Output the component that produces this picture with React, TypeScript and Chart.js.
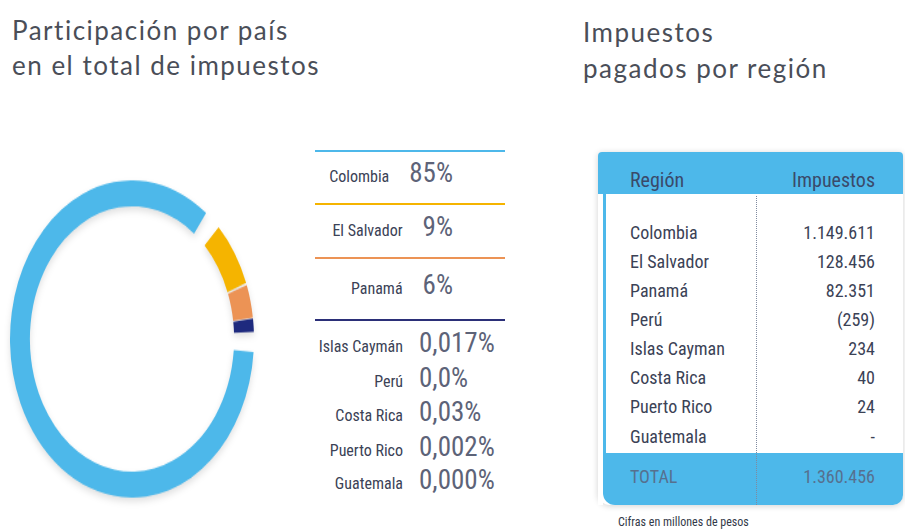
import React, { useEffect, useRef } from "react";
import { Chart, registerables } from "chart.js";
Chart.register(...registerables);

// Ring: arc shares as drawn in the ring (Colombia, El Salvador, Panamá, otros)
const ringLabels = ["Colombia", "El Salvador", "Panamá", "Otros"];
const ringShare = [88.1, 7, 3.5, 1.4];
const ringColors = ["#4DB8EA", "#F5B400", "#EC9355", "#1E2A7E"];

// Participation list
const mainLabels = ["Colombia", "El Salvador", "Panamá"];
const mainPct = ["85%", "9%", "6%"];
const mainLineColors = ["#4DB8EA", "#F5B400", "#EC9355", "#2B2F78"];
const minorLabels = ["Islas Caymán", "Perú", "Costa Rica", "Puerto Rico", "Guatemala"];
const minorPct = ["0,017%", "0,0%", "0,03%", "0,002%", "0,000%"];

// Table
const regions = ["Colombia", "El Salvador", "Panamá", "Perú", "Islas Cayman", "Costa Rica", "Puerto Rico", "Guatemala"];
const taxes = ["1.149.611", "128.456", "82.351", "(259)", "234", "40", "24", "-"];
const totalTax = "1.360.456";

const W = 905;
const NARROW = "'Liberation Sans Narrow', 'Arial Narrow', 'Roboto Condensed', 'DejaVu Sans Condensed', sans-serif";
const TITLE = "Lato, 'Open Sans', sans-serif";
const BLUE = "#4DB8EA";

function T(props: any) {
  const { x, base, size, right, color = "#3b4256", family = NARROW, weight = 400, ratio = 0.85, ls = 0, children } = props;
  return (
    <div
      style={{
        position: "absolute",
        top: base - ratio * size,
        left: right ? undefined : x,
        right: right ? W - x : undefined,
        fontSize: size,
        lineHeight: `${size}px`,
        fontFamily: family,
        fontWeight: weight,
        color,
        whiteSpace: "nowrap",
        letterSpacing: ls,
      }}
    >
      {children}
    </div>
  );
}

const CS = 244;

function Ring() {
  const ref = useRef<HTMLCanvasElement>(null);
  useEffect(() => {
    const chart = new Chart(ref.current!, {
      type: "doughnut",
      data: {
        labels: ringLabels,
        datasets: [
          {
            data: ringShare,
            backgroundColor: ringColors,
            borderWidth: 0,
            spacing: 10,
          },
        ],
      },
      options: {
        responsive: false,
        maintainAspectRatio: false,
        animation: false,
        devicePixelRatio: 1,
        cutout: "83%",
        rotation: 87.5,
        layout: { padding: 0 },
        plugins: { legend: { display: false }, tooltip: { enabled: false } },
      },
    });
    return () => chart.destroy();
  }, []);
  return (
    <div
      style={{
        position: "absolute",
        left: 132 - CS / 2,
        top: 339 - CS / 2,
        width: CS,
        height: CS,
        transform: "scaleY(1.3)",
        transformOrigin: "50% 50%",
        filter: "drop-shadow(0px 3px 3px rgba(0,0,0,0.12))",
      }}
    >
      <canvas ref={ref} width={CS} height={CS} style={{ width: CS, height: CS, display: "block" }} />
    </div>
  );
}

export default function App() {
  useEffect(() => {
    document.body.style.margin = "0";
  }, []);
  const mainBases = [183, 237, 295];
  const lineYs = [151, 204, 258, 320];
  const minorBases = [353, 388, 422, 457, 490];
  const rowBases = [239, 268, 297, 326, 355, 384, 413, 443];
  return (
    <div style={{ position: "fixed", left: 0, top: 0, width: W, height: 529, background: "#fff", overflow: "hidden" }}>
      {/* Titles */}
      <T x={12} base={40} size={26} family={TITLE} ratio={0.887} ls={1.5} color="#4a4e58">Participación por país</T>
      <T x={12} base={75} size={26} family={TITLE} ratio={0.887} ls={1.5} color="#4a4e58">en el total de impuestos</T>
      <T x={583} base={42} size={26} family={TITLE} ratio={0.887} ls={1.5} color="#4a4e58">Impuestos</T>
      <T x={583} base={78} size={26} family={TITLE} ratio={0.887} ls={1.5} color="#4a4e58">pagados por región</T>

      <Ring />

      {/* List lines */}
      {lineYs.map((y, i) => (
        <div key={i} style={{ position: "absolute", left: 315, width: 190, top: y - 1, height: i === 3 ? 2 : 1.5, background: mainLineColors[i] }} />
      ))}
      {mainLabels.map((l, i) => (
        <div
          key={l}
          style={{
            position: "absolute",
            right: W - 453,
            top: mainBases[i] - 0.85 * 27,
            display: "flex",
            alignItems: "baseline",
            gap: 20,
            whiteSpace: "nowrap",
            fontFamily: NARROW,
          }}
        >
          <span style={{ fontSize: 16, lineHeight: "16px", color: "#3b4256" }}>{l}</span>
          <span style={{ fontSize: 27, lineHeight: "27px", color: "#5d6378" }}>{mainPct[i]}</span>
        </div>
      ))}
      {minorLabels.map((l, i) => (
        <React.Fragment key={l}>
          <T x={403} right base={minorBases[i]} size={16}>{l}</T>
          <T x={419} base={minorBases[i]} size={27} color="#5d6378">{minorPct[i]}</T>
        </React.Fragment>
      ))}

      {/* Table */}
      <div style={{ position: "absolute", left: 598, top: 152, width: 305, height: 353, borderRadius: "4px 4px 10px 12px", boxShadow: "0 1px 6px rgba(0,0,0,0.18)", background: "#fff" }} />
      <div style={{ position: "absolute", left: 598, top: 152, width: 305, height: 42, background: BLUE, borderRadius: "4px 4px 0 0" }} />
      <div style={{ position: "absolute", left: 603, top: 194, width: 3, height: 270, background: BLUE }} />
      <div style={{ position: "absolute", left: 603, top: 453, width: 300, height: 52, background: BLUE, borderRadius: "0 0 10px 12px" }} />
      <div style={{ position: "absolute", left: 598, top: 194, width: 5, height: 311, background: "#fff" }} />
      <div style={{ position: "absolute", left: 756, top: 196, width: 0, height: 309, borderLeft: "1.5px dotted #7f8aa0" }} />

      <T x={630} base={187} size={20} color="#3a4a6a">Región</T>
      <T x={875} right base={187} size={20} color="#3a4a6a">Impuestos</T>
      {regions.map((r, i) => (
        <React.Fragment key={r}>
          <T x={630} base={rowBases[i]} size={18}>{r}</T>
          <T x={875} right base={rowBases[i]} size={18}>{taxes[i]}</T>
        </React.Fragment>
      ))}
      <T x={630} base={483} size={18} color="#56708f">TOTAL</T>
      <T x={875} right base={483} size={18} color="#56708f">{totalTax}</T>
      <T x={618} base={526} size={12} color="#333a48">Cifras en millones de pesos</T>
    </div>
  );
}
